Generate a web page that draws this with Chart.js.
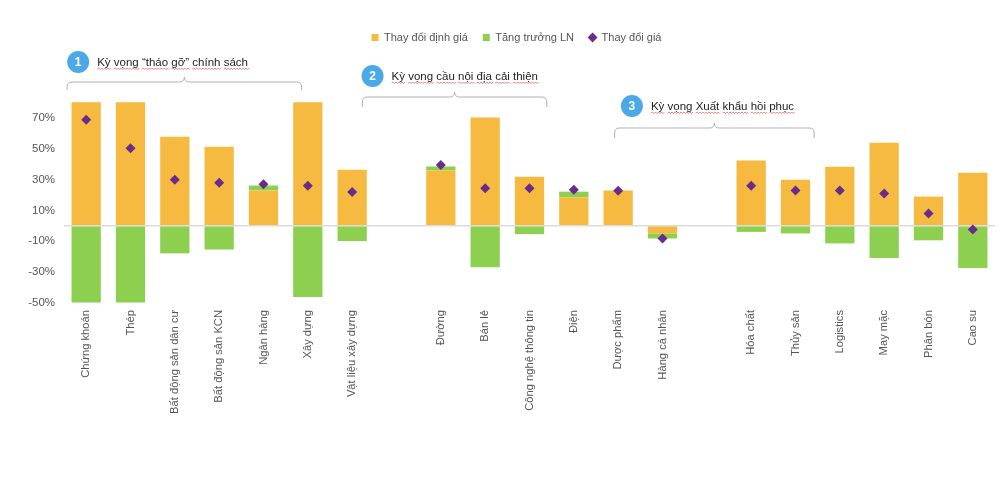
<!DOCTYPE html>
<html>
<head>
<meta charset="utf-8">
<script src="https://cdn.jsdelivr.net/npm/chart.js@4.4.1/dist/chart.umd.min.js"></script>
<style>
  html, body { margin: 0; padding: 0; background: #fff; }
  #wrap { width: 1000px; height: 486px; position: relative; }
</style>
</head>
<body>
<div id="wrap"><canvas id="myChart"></canvas></div>
<script>
// categories ('' = gap between groups)
const categories = [
  'Chứng khoán', 'Thép', 'Bất động sản dân cư', 'Bất động sản KCN', 'Ngân hàng', 'Xây dựng', 'Vật liệu xây dựng',
  '',
  'Đường', 'Bán lẻ', 'Công nghệ thông tin', 'Điện', 'Dược phẩm', 'Hàng cá nhân',
  '',
  'Hóa chất', 'Thủy sản', 'Logistics', 'May mặc', 'Phân bón', 'Cao su'
];
const valuationChange = [80.5, 80.5, 58, 51.5, 23, 80.5, 36.5, null, 36, 70.5, 32, 18.5, 23, -5, null, 42.5, 30, 38.5, 54, 19, 34.5];
const profitGrowth    = [-50, -50, -18, -15.5, 3.2, -46.5, -10, null, 2.6, -27, -5.5, 3.7, 0, -3.3, null, -4, -5, -11.5, -21, -9.5, -27.5];
const priceChange     = [69, 50.5, 30, 28, 27, 26, 22, null, 39.5, 24.5, 24.5, 23.5, 22.8, -8.3, null, 26, 23, 23, 21, 8, -2.5];
const yTicks = [-50, -30, -10, 0, 10, 30, 50, 70];

const groupTitles = ['Kỳ vọng “tháo gỡ” chính sách', 'Kỳ vọng cầu nội địa cải thiện', 'Kỳ vọng Xuất khẩu hồi phục'];
// bracket layout (x in category units, y in pixels)
const groupBoxes = [
  { from: -0.43, to: 4.86, lineY: 82, endY: 90, circleX: -0.18, circleY: 62 },
  { from: 6.23, to: 10.39, lineY: 97, endY: 107, circleX: 6.46, circleY: 76 },
  { from: 11.92, to: 16.42, lineY: 128, endY: 138, circleX: 12.31, circleY: 106 }
];

const ORANGE = '#F5BA3F', GREEN = '#8DCF4E', PURPLE = '#6A2B8E';
const FONT = "'Liberation Sans', Arial, sans-serif";

const legendTweak = {
  id: 'legendTweak',
  beforeInit(chart) {
    const fit = chart.legend.fit;
    chart.legend.fit = function () { fit.call(this); this.height = 43; };
  },
  afterLayout(chart) {
    chart.legend.left += 18;
    chart.legend.right += 18;
  }
};

function wavy(ctx, x1, x2, y) {
  ctx.beginPath();
  let up = true;
  ctx.moveTo(x1, y);
  for (let x = x1; x < x2; x += 1.5) {
    ctx.lineTo(x + 1.5, up ? y - 1 : y + 0.5);
    up = !up;
  }
  ctx.stroke();
}

const groupNotes = {
  id: 'groupNotes',
  afterDraw(chart) {
    const ctx = chart.ctx;
    const xs = chart.scales.x;
    const px = v => xs.getPixelForValue(0) + v * (xs.getPixelForValue(1) - xs.getPixelForValue(0));
    ctx.save();
    groupBoxes.forEach((g, i) => {
      const l = px(g.from), r = px(g.to), c = (l + r) / 2, y = g.lineY, rad = 5;
      // bracket
      ctx.strokeStyle = '#b0b0b0';
      ctx.lineWidth = 1;
      ctx.beginPath();
      ctx.moveTo(l, g.endY);
      ctx.lineTo(l, y + rad);
      ctx.quadraticCurveTo(l, y, l + rad, y);
      ctx.lineTo(c - 5, y);
      ctx.quadraticCurveTo(c, y, c, y - 5);
      ctx.quadraticCurveTo(c, y, c + 5, y);
      ctx.lineTo(r - rad, y);
      ctx.quadraticCurveTo(r, y, r, y + rad);
      ctx.lineTo(r, g.endY);
      ctx.stroke();
      // numbered circle
      const cx = px(g.circleX), cy = g.circleY;
      ctx.fillStyle = '#4AA9E6';
      ctx.beginPath();
      ctx.arc(cx, cy, 11, 0, Math.PI * 2);
      ctx.fill();
      ctx.fillStyle = '#fff';
      ctx.font = 'bold 12px ' + FONT;
      ctx.textAlign = 'center';
      ctx.textBaseline = 'middle';
      ctx.fillText(String(i + 1), cx, cy + 0.5);
      // title
      ctx.fillStyle = '#222';
      ctx.font = '11.5px ' + FONT;
      ctx.textAlign = 'left';
      ctx.textBaseline = 'alphabetic';
      const tx = cx + 19, ty = cy + 4;
      ctx.fillText(groupTitles[i], tx, ty);
      // spell-check style underline under each word
      ctx.strokeStyle = 'rgba(220,50,50,0.75)';
      ctx.lineWidth = 0.8;
      let x = tx;
      groupTitles[i].split(' ').forEach(w => {
        const ww = ctx.measureText(w).width;
        wavy(ctx, x, x + ww, ty + 3);
        x += ww + ctx.measureText(' ').width;
      });
    });
    ctx.restore();
  }
};

const ctx = document.getElementById('myChart').getContext('2d');
const myChart = new Chart(ctx, {
  type: 'bar',
  data: {
    labels: categories,
    datasets: [
      {
        label: 'Thay đổi định giá',
        data: valuationChange,
        backgroundColor: ORANGE,
        stack: 'bars',
        order: 1,
        pointStyle: 'rect'
      },
      {
        label: 'Tăng trưởng LN',
        data: profitGrowth,
        backgroundColor: GREEN,
        stack: 'bars',
        order: 1,
        pointStyle: 'rect'
      },
      {
        type: 'line',
        label: 'Thay đổi giá',
        data: priceChange,
        showLine: false,
        stack: 'price',
        order: 0,
        pointStyle: 'rectRot',
        pointRadius: 5,
        pointHoverRadius: 5,
        backgroundColor: PURPLE,
        borderColor: PURPLE,
        borderWidth: 0
      }
    ]
  },
  options: {
    responsive: true,
    maintainAspectRatio: false,
    animation: false,
    layout: { padding: { top: 17, left: 0, right: 3, bottom: 0 } },
    datasets: { bar: { barPercentage: 0.66, categoryPercentage: 1 } },
    scales: {
      x: {
        stacked: true,
        grid: { display: false, drawTicks: false },
        border: { display: false },
        ticks: {
          autoSkip: false,
          maxRotation: 90,
          minRotation: 90,
          padding: 6,
          color: '#555',
          font: { family: FONT, size: 11.2 }
        },
        afterFit: s => { s.height = 182; }
      },
      y: {
        stacked: true,
        min: -51,
        max: 108,
        grid: {
          drawTicks: false,
          lineWidth: 1.5,
          color: c => (c.tick && c.tick.value === 0 ? '#dcdcdc' : 'rgba(0,0,0,0)')
        },
        border: { display: false },
        afterBuildTicks: s => { s.ticks = yTicks.map(v => ({ value: v })); },
        ticks: {
          padding: 9,
          color: '#555',
          font: { family: FONT, size: 11.5 },
          callback: v => (v === 0 ? '' : v + '%')
        },
        afterFit: s => { s.width = 64; }
      }
    },
    plugins: {
      legend: {
        position: 'top',
        labels: {
          usePointStyle: true,
          boxWidth: 7,
          boxHeight: 7,
          padding: 15,
          color: '#555',
          font: { family: FONT, size: 11 },
          sort: (a, b) => a.datasetIndex - b.datasetIndex
        }
      },
      tooltip: { enabled: false }
    }
  },
  plugins: [legendTweak, groupNotes]
});
</script>
</body>
</html>
